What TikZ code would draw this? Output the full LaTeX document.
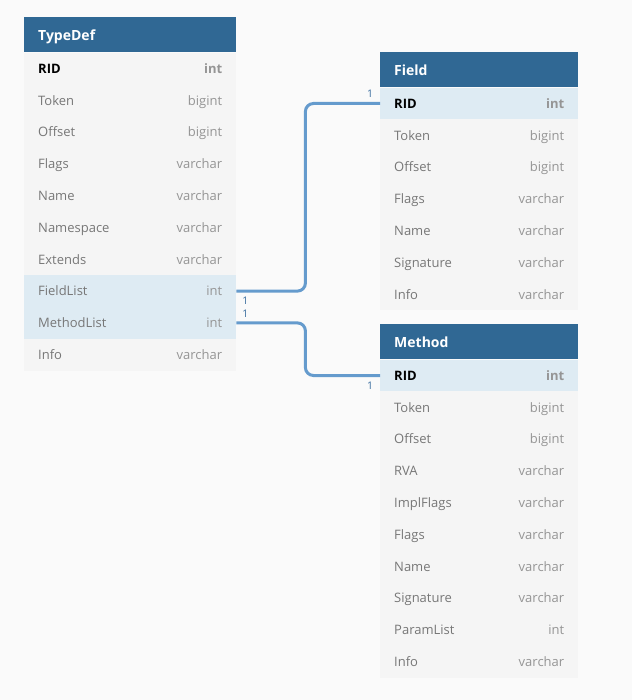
\documentclass[tikz,border=0pt]{standalone}
\usepackage{fontspec}
\setmainfont{Open Sans}
\usetikzlibrary{calc}
\definecolor{bgc}{HTML}{FAFAFA}
\definecolor{hdrc}{HTML}{306894}
\definecolor{bodyc}{HTML}{F5F5F5}
\definecolor{hlc}{HTML}{DEEBF3}
\definecolor{namec}{HTML}{777777}
\definecolor{typec}{HTML}{959595}
\definecolor{connc}{HTML}{659BCD}
\definecolor{cardc}{HTML}{3D6FA0}
\newcommand\keyname[1]{\textcolor{black}{\bfseries #1}}
\newcommand\keytype[1]{{\bfseries #1}}
\tikzset{
  hdrbox/.style={draw=none, fill=hdrc, minimum height=35pt, inner sep=0pt},
  hdrtext/.style={text=white, font=\fontsize{14}{16}\selectfont\bfseries, inner sep=0pt, text height=10pt, text depth=3pt},
  rowbox/.style={draw=none, minimum height=31.8pt, inner sep=0pt},
  r-pl/.style={fill=bodyc},
  r-hl/.style={fill=hlc},
  nametext/.style={text=namec, font=\fontsize{13}{15}\selectfont, inner sep=0pt, text height=9.5pt, text depth=3pt},
  typetext/.style={text=typec, font=\fontsize{13}{15}\selectfont, inner sep=0pt, text height=9.5pt, text depth=3pt},
  conn/.style={draw=connc, line width=3pt, rounded corners=8pt},
  card/.style={text=cardc, font=\fontsize{10.5}{12}\selectfont, inner sep=0pt, text height=7.5pt, text depth=0pt}
}
\newcommand{\erdtable}[6]{%
  \node[hdrbox, minimum width=#4, anchor=north west] (#1) at (#2,#3) {};
  \node[hdrtext, anchor=west] (#1-title) at ([xshift=14pt,yshift=-2pt]#1.west) {#5};
  \foreach \n/\t/\s [count=\i] in {#6} {
    \node[rowbox, \s, minimum width=#4, anchor=north west] (#1-\i) at ($(#1.south west)+(0,{31.8*(\i-1)})$) {};
    \node[nametext, anchor=west] (#1-\i-n) at ([xshift=14pt,yshift=-1.5pt]#1-\i.west) {\n};
    \node[typetext, anchor=east] (#1-\i-t) at ([xshift=-14pt,yshift=-1.5pt]#1-\i.east) {\t};
  }
}
\begin{document}
\begin{tikzpicture}[x=1pt, y=-1pt]
\fill[bgc] (0,0) rectangle (632,700);
\useasboundingbox (0,0) rectangle (632,700);
\erdtable{td}{24}{17}{212pt}{TypeDef}{\keyname{RID}/\keytype{int}/r-pl, Token/bigint/r-pl, Offset/bigint/r-pl, Flags/varchar/r-pl, Name/varchar/r-pl, Namespace/varchar/r-pl, Extends/varchar/r-pl, FieldList/int/r-hl, MethodList/int/r-hl, Info/varchar/r-pl}
\erdtable{f}{380}{52}{198pt}{Field}{\keyname{RID}/\keytype{int}/r-hl, Token/bigint/r-pl, Offset/bigint/r-pl, Flags/varchar/r-pl, Name/varchar/r-pl, Signature/varchar/r-pl, Info/varchar/r-pl}
\erdtable{m}{380}{324}{198pt}{Method}{\keyname{RID}/\keytype{int}/r-hl, Token/bigint/r-pl, Offset/bigint/r-pl, RVA/varchar/r-pl, ImplFlags/varchar/r-pl, Flags/varchar/r-pl, Name/varchar/r-pl, Signature/varchar/r-pl, ParamList/int/r-pl, Info/varchar/r-pl}
\draw[conn] (td-8.east) -- ++(69,0) |- (f-1.west);
\draw[conn] (td-9.east) -- ++(69,0) |- (m-1.west);
\node[card] (c1) at ($(td-8.east)+(9,10)$) {1};
\node[card] (c2) at ($(f-1.west)+(-10,-10)$) {1};
\node[card] (c3) at ($(td-9.east)+(9,-9)$) {1};
\node[card] (c4) at ($(m-1.west)+(-10,10)$) {1};
\end{tikzpicture}
\end{document}
